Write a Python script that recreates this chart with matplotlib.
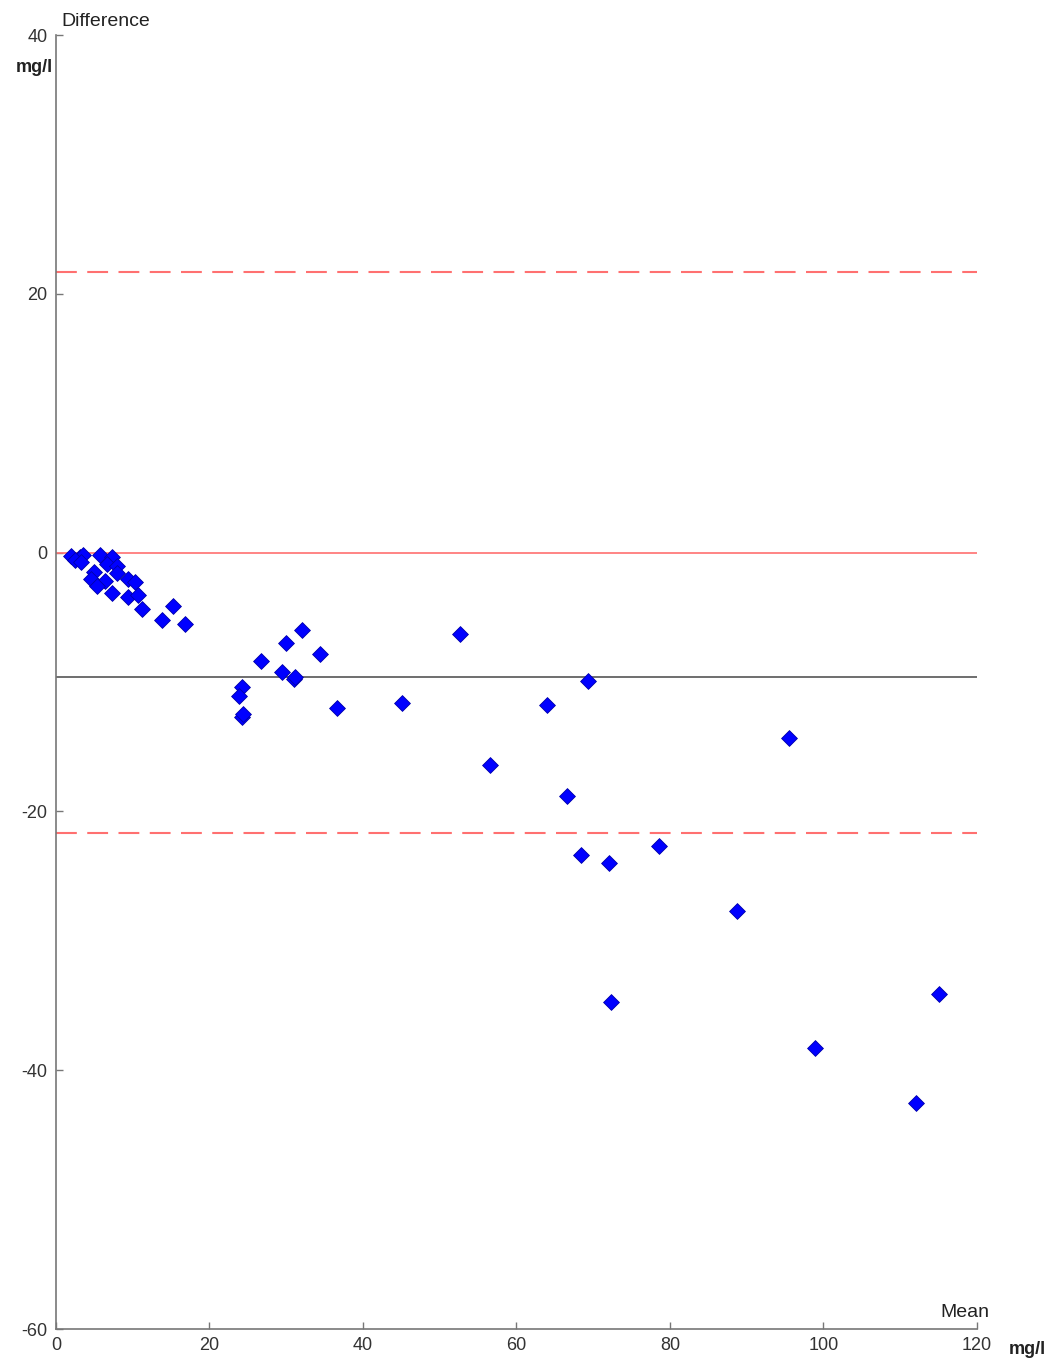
import matplotlib
matplotlib.use('Agg')
import matplotlib.pyplot as plt

# Bland-Altman data (mean, difference)
mean_vals = [2.0, 3.1, 3.5, 2.5, 3.3, 5.7, 7.3, 6.6, 7.9, 4.9, 7.9, 4.6, 6.4, 9.4,
             10.3, 5.3, 7.3, 9.4, 10.7, 11.2, 15.3, 13.8, 16.8,
             32.1, 30.0, 26.7, 34.4, 29.4, 31.0, 31.2, 24.3, 23.8, 24.3, 24.4, 36.6,
             52.6, 45.1, 64.0, 69.3, 56.5, 66.6, 95.5, 68.4, 72.1, 78.6, 88.7,
             72.3, 115.0, 98.9, 112.1]
diff_vals = [-0.23, -0.36, -0.2, -0.6, -0.75, -0.2, -0.36, -0.85, -1.0, -1.5, -1.6, -2.0, -2.2, -2.0,
             -2.3, -2.55, -3.1, -3.45, -3.3, -4.35, -4.1, -5.2, -5.5,
             -6.0, -7.0, -8.35, -7.8, -9.2, -9.8, -9.6, -10.4, -11.06, -12.7, -12.5, -12.0,
             -6.3, -11.6, -11.75, -9.9, -16.4, -18.8, -14.3, -23.4, -24.0, -22.7, -27.7,
             -34.7, -34.1, -38.3, -42.5]

mean_diff = -9.6
upper_loa = 21.7
lower_loa = -21.7

xticks = [0, 20, 40, 60, 80, 100, 120]
yticks = [-60, -40, -20, 0, 20, 40]

plt.rcParams['font.family'] = ['Liberation Sans', 'DejaVu Sans']
plt.rcParams['axes.unicode_minus'] = False

fig = plt.figure(figsize=(10.58, 13.63), dpi=100)
ax = fig.add_axes([0.0529, 0.0249, 0.8705, 0.9494])

ax.axhline(0, color='#FF7070', linewidth=1.2, zorder=2)
ax.axhline(mean_diff, color='#555555', linewidth=1.2, zorder=2)
for v in (upper_loa, lower_loa):
    ax.axhline(v, color='#FF7070', linewidth=1.5, dashes=(10, 5), zorder=2)

ax.scatter(mean_vals, diff_vals, marker='D', s=65, color='#0000FF',
           edgecolors='#0000AA', linewidths=0.6, zorder=3)

ax.set_xlim(0, 120)
ax.set_ylim(-60, 40)
ax.set_xticks(xticks)
ax.set_yticks(yticks)
ax.tick_params(direction='in', length=5, width=1, color='#777777',
               labelsize=13, labelcolor='#333333', pad=6)
for s in ('top', 'right'):
    ax.spines[s].set_visible(False)
for s in ('left', 'bottom'):
    ax.spines[s].set_color('#777777')
    ax.spines[s].set_linewidth(1.2)

ax.text(0.006, 1.004, 'Difference', transform=ax.transAxes, fontsize=14,
        color='#222222', ha='left', va='bottom')
ax.text(-0.003, 0.975, 'mg/l', transform=ax.transAxes, fontsize=13,
        fontweight='bold', color='#222222', ha='right', va='center')
ax.text(0.987, 0.006, 'Mean', transform=ax.transAxes, fontsize=14,
        color='#222222', ha='center', va='bottom')
ax.text(1.035, -0.016, 'mg/l', transform=ax.transAxes, fontsize=13,
        fontweight='bold', color='#222222', ha='left', va='center')

fig.savefig('out.png', dpi=100, facecolor='white')
